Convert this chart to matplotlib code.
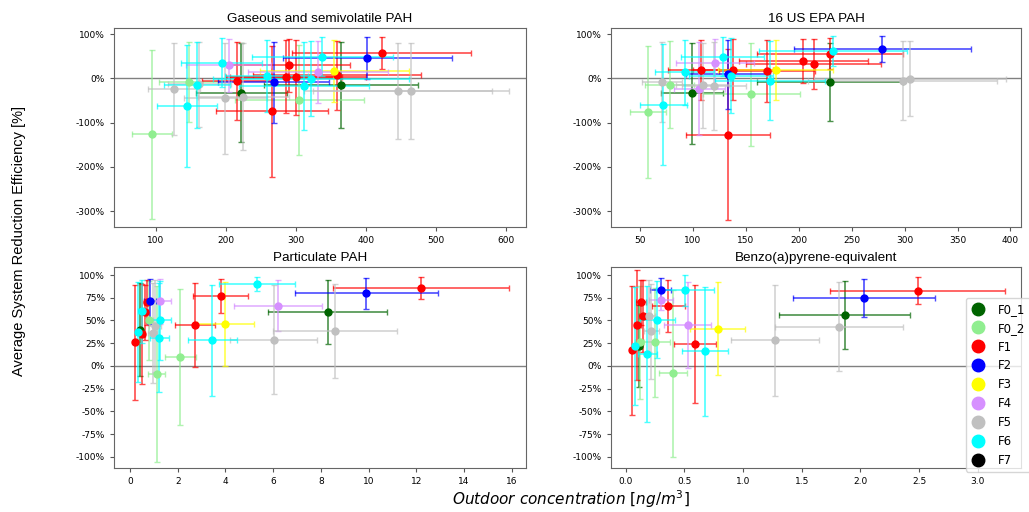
import matplotlib
matplotlib.use('Agg')
import matplotlib.pyplot as plt
from matplotlib.colors import to_rgba
from matplotlib.lines import Line2D
from matplotlib.ticker import PercentFormatter, MultipleLocator

plt.rcParams['axes.unicode_minus'] = False

groups = ['F0_1', 'F0_2', 'F1', 'F2', 'F3', 'F4', 'F5', 'F6', 'F7']
colors = ['darkgreen', 'lightgreen', 'red', 'blue', 'yellow', '#d690ff', 'silver', 'cyan', 'black']

# Gaseous and semivolatile PAH
gas_grp = ['F0_1', 'F0_1',
           'F0_2', 'F0_2', 'F0_2',
           'F1', 'F1', 'F1', 'F1', 'F1', 'F1', 'F1',
           'F2', 'F2',
           'F3',
           'F4', 'F4',
           'F5', 'F5', 'F5', 'F5', 'F5', 'F5',
           'F6', 'F6', 'F6', 'F6', 'F6', 'F6', 'F6']
gas_x = [222, 365, 94, 147, 305, 216, 266, 286, 290, 300, 359, 423, 268, 402, 355,
         204, 332, 126, 162, 199, 225, 446, 465, 144, 159, 194, 258, 312, 321, 338]
gas_xerr = [65, 110, 29, 42, 92, 50, 80, 80, 88, 100, 120, 128, 80, 121, 107,
            61, 100, 37, 45, 59, 65, 135, 140, 43, 47, 58, 60, 93, 140, 101]
gas_y = [-32, -15, -126, -8, -49, -5, -74, 4, 30, 3, 7, 58, -9, 46, 17,
         30, 15, -24, -13, -45, -41, -28, -28, -63, -14, 36, 5, -17, -1, 49]
gas_yerr = [112, 98, 191, 90, 125, 88, 148, 83, 60, 85, 78, 36, 91, 48, 70,
            60, 70, 104, 96, 125, 120, 108, 108, 138, 97, 55, 81, 100, 85, 44]

# 16 US EPA PAH
epa_grp = ['F0_1', 'F0_1',
           'F0_2', 'F0_2', 'F0_2',
           'F1', 'F1', 'F1', 'F1', 'F1', 'F1', 'F1',
           'F2', 'F2',
           'F3',
           'F4', 'F4',
           'F5', 'F5', 'F5', 'F5', 'F5',
           'F6', 'F6', 'F6', 'F6', 'F6', 'F6']
epa_x = [99, 229, 57, 78, 155, 108, 133, 138, 170, 204, 214, 229, 133, 279, 178,
         106, 121, 71, 109, 120, 298, 305, 72, 92, 128, 136, 173, 232]
epa_xerr = [29, 69, 17, 23, 46, 32, 40, 38, 45, 61, 64, 69, 40, 84, 54,
            24, 37, 19, 25, 30, 89, 91, 22, 28, 39, 40, 52, 70]
epa_y = [-34, -8, -76, -14, -36, 19, -127, 20, 17, 39, 32, 56, 9, 67, 19,
         -23, 34, -8, -15, -17, -5, -1, -59, 14, 49, 6, -5, 61]
epa_yerr = [115, 88, 150, 98, 116, 68, 193, 69, 70, 50, 57, 35, 79, 29, 67,
            105, 55, 90, 96, 100, 89, 85, 137, 73, 44, 85, 89, 34]

# Particulate PAH
par_grp = ['F0_1', 'F0_1',
           'F0_2', 'F0_2', 'F0_2',
           'F1', 'F1', 'F1', 'F1', 'F1', 'F1', 'F1',
           'F2', 'F2',
           'F3',
           'F4', 'F4',
           'F5', 'F5', 'F5', 'F5',
           'F6', 'F6', 'F6', 'F6', 'F6', 'F6']
par_x = [0.42, 8.29, 0.81, 1.12, 2.1, 0.21, 0.52, 0.63, 0.70, 2.74, 3.81, 12.19,
         0.84, 9.91, 4.0, 1.26, 6.19, 0.95, 1.05, 6.02, 8.6,
         0.35, 0.5, 1.23, 1.26, 3.45, 5.32]
par_xerr = [0.08, 2.5, 0.15, 0.35, 0.65, 0.05, 0.1, 0.12, 0.1, 0.84, 1.15, 3.7,
            0.25, 3.0, 1.2, 0.44, 1.85, 0.2, 0.25, 1.83, 2.6,
            0.1, 0.15, 0.4, 0.45, 1.03, 1.6]
par_y = [40, 59, 50, -9, 10, 26, 35, 59, 70, 45, 77, 86,
         71, 80, 46, 71, 66, 36, 44, 29, 38.5,
         37, 60, 31, 50, 28, 90]
par_yerr = [51, 35, 43, 97, 75, 63, 55, 30, 25, 46, 19, 12,
            25, 17, 46, 25, 28, 55, 51, 60, 52,
            55, 35, 60, 43, 61, 8]

# Benzo(a)pyrene-equivalent
bap_grp = ['F0_1', 'F0_1',
           'F0_2', 'F0_2', 'F0_2',
           'F1', 'F1', 'F1', 'F1', 'F1', 'F1', 'F1',
           'F2', 'F2',
           'F3',
           'F4', 'F4',
           'F5', 'F5', 'F5', 'F5',
           'F6', 'F6', 'F6', 'F6', 'F6']
bap_x = [0.11, 1.865, 0.12, 0.25, 0.405, 0.057, 0.1, 0.13, 0.15, 0.363, 0.588, 2.489,
         0.30, 2.03, 0.783, 0.30, 0.528, 0.20, 0.22, 1.27, 1.817,
         0.08, 0.185, 0.27, 0.505, 0.676]
bap_xerr = [0.03, 0.556, 0.04, 0.13, 0.12, 0.02, 0.03, 0.04, 0.04, 0.14, 0.18, 0.745,
            0.09, 0.607, 0.234, 0.1, 0.2, 0.05, 0.06, 0.376, 0.547,
            0.03, 0.08, 0.15, 0.25, 0.2]
bap_y = [22, 56, 26, 26, -8, 17, 45, 70, 55, 66, 24, 82.6,
         84, 75, 41, 73, 45, 55, 38, 28, 43,
         22, 13, 51, 83, 16]
bap_yerr = [45, 37.5, 62, 60, 92, 71, 60, 25, 40, 29, 65, 15,
            13, 21, 51, 12, 47, 40, 52, 61, 49,
            65, 75, 42, 17, 71]

panels = [
    ('Gaseous and semivolatile PAH', gas_grp, gas_x, gas_xerr, gas_y, gas_yerr,
     (40, 629), (-336, 114), 100, 100),
    ('16 US EPA PAH', epa_grp, epa_x, epa_xerr, epa_y, epa_yerr,
     (22.5, 410), (-336, 114), 50, 100),
    ('Particulate PAH', par_grp, par_x, par_xerr, par_y, par_yerr,
     (-0.67, 16.6), (-112.4, 108.8), 2, 25),
    ('Benzo(a)pyrene-equivalent', bap_grp, bap_x, bap_xerr, bap_y, bap_yerr,
     (-0.125, 3.37), (-112.4, 108.8), 0.5, 25),
]

fig = plt.figure(figsize=(10.29, 5.12), dpi=100)
boxes = [[0.1108, 0.5566, 0.4004, 0.3887],
         [0.5938, 0.5566, 0.3985, 0.3887],
         [0.1108, 0.0859, 0.4004, 0.3926],
         [0.5938, 0.0859, 0.3985, 0.3926]]

for box, (title, grp, xs, xe, ys, ye, xlim, ylim, xstep, ystep) in zip(boxes, panels):
    ax = fig.add_axes(box)
    for g, c in zip(groups, colors):
        idx = [i for i, name in enumerate(grp) if name == g]
        if not idx:
            continue
        ax.errorbar([xs[i] for i in idx], [ys[i] for i in idx],
                    xerr=[xe[i] for i in idx], yerr=[ye[i] for i in idx],
                    fmt='o', color=c, ms=5, ecolor=to_rgba(c, 0.7),
                    elinewidth=1.2, capsize=2.5, capthick=1.0)
    ax.axhline(0, color='gray', lw=1, zorder=0)
    ax.set_xlim(xlim)
    ax.set_ylim(ylim)
    ax.xaxis.set_major_locator(MultipleLocator(xstep))
    ax.yaxis.set_major_locator(MultipleLocator(ystep))
    ax.yaxis.set_major_formatter(PercentFormatter(decimals=0))
    ax.tick_params(labelsize=6.5, length=3, color='#555555')
    for s in ax.spines.values():
        s.set_color('#666666')
    ax.set_title(title, fontsize=9.7, family='Liberation Sans', pad=4)

# legend sits partly outside the figure, as in the original
handles = [Line2D([], [], marker='o', ls='none', color=c, ms=9) for c in colors]
fig.legend(handles, groups, loc='upper left', bbox_to_anchor=(966 / 1029, 1 - 298 / 512),
           borderaxespad=0, fontsize=8.5, labelspacing=0.5, handlelength=1.2,
           handletextpad=1.1, borderpad=0.4)

fig.text(0.018, 0.53, 'Average System Reduction Efficiency [%]', rotation=90,
         ha='center', va='center', fontsize=10.5, family='Liberation Sans')
fig.text(0.555, 0.025, r'$Outdoor\ concentration\ [ng/m^3]$', ha='center',
         va='center', fontsize=11)

fig.savefig('out.png', dpi=100)
